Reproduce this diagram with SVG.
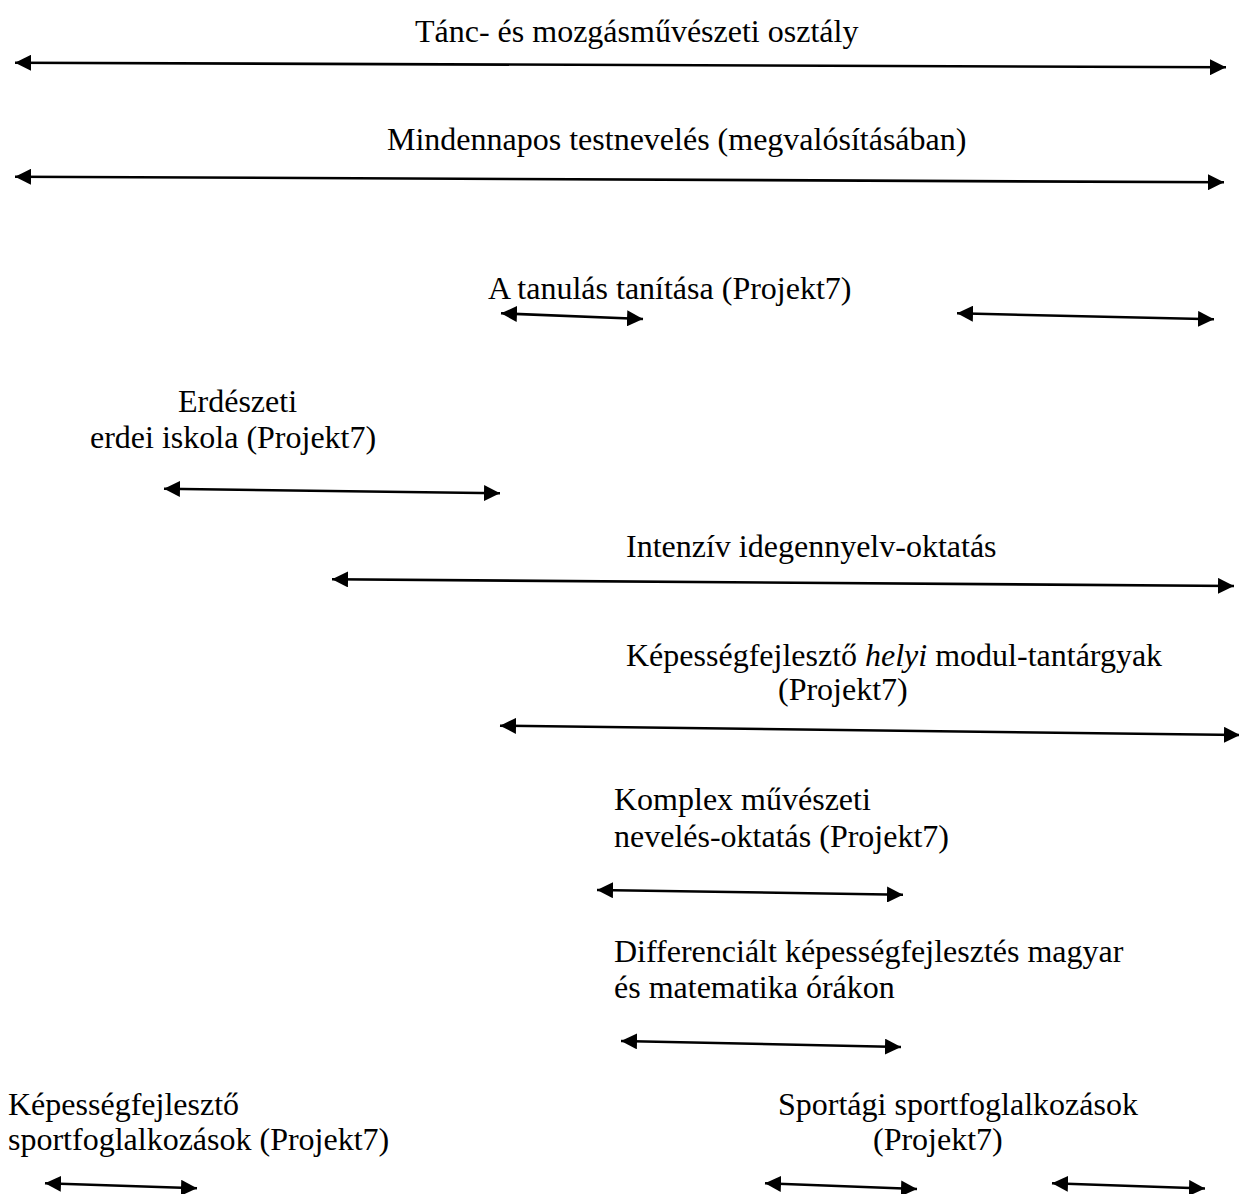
<svg xmlns="http://www.w3.org/2000/svg" width="1239" height="1194" viewBox="0 0 1239 1194">
<style>
text{font-family:"Liberation Serif","Times New Roman",serif;font-size:32px;fill:#000}
.c line{stroke:#000;stroke-width:2.6;marker-start:url(#h);marker-end:url(#h)}
</style>
<defs>
<marker id="h" viewBox="0 0 16 16" markerWidth="16" markerHeight="16" refX="16" refY="8" orient="auto-start-reverse" markerUnits="userSpaceOnUse">
<path d="M0,0 L16,8 L0,16 Z" fill="#000"/>
</marker>
</defs>
<rect width="1239" height="1194" fill="#fff"/>
<g id="n1"><text x="415" y="42">Tánc- és mozgásművészeti osztály</text></g>
<g id="n2"><text x="387" y="150">Mindennapos testnevelés (megvalósításában)</text></g>
<g id="n3"><text x="488" y="299">A tanulás tanítása (Projekt7)</text></g>
<g id="n4"><text x="178" y="412">Erdészeti</text><text x="90" y="448">erdei iskola (Projekt7)</text></g>
<g id="n5"><text x="626" y="557">Intenzív idegennyelv-oktatás</text></g>
<g id="n6"><text x="626" y="666">Képességfejlesztő <tspan font-style="italic">helyi</tspan> modul-tantárgyak</text><text x="778" y="700">(Projekt7)</text></g>
<g id="n7"><text x="614" y="810">Komplex művészeti</text><text x="614" y="847">nevelés-oktatás (Projekt7)</text></g>
<g id="n8"><text x="614" y="962">Differenciált képességfejlesztés magyar</text><text x="614" y="998">és matematika órákon</text></g>
<g id="n9"><text x="8" y="1115">Képességfejlesztő</text><text x="8" y="1150">sportfoglalkozások (Projekt7)</text></g>
<g id="n10"><text x="778" y="1115">Sportági sportfoglalkozások</text><text x="873" y="1150">(Projekt7)</text></g>
<g id="connectors" class="c">
<line x1="15" y1="62.7" x2="1226" y2="67.3"/>
<line x1="15" y1="176.7" x2="1224" y2="182.3"/>
<line x1="501" y1="313.3" x2="643" y2="319"/>
<line x1="957" y1="313.3" x2="1214" y2="319.3"/>
<line x1="164" y1="488.7" x2="500" y2="493.3"/>
<line x1="332" y1="579.3" x2="1234" y2="586"/>
<line x1="500" y1="725.7" x2="1240" y2="735"/>
<line x1="597" y1="890" x2="903" y2="894.7"/>
<line x1="621" y1="1041" x2="901" y2="1047"/>
<line x1="45" y1="1183.3" x2="197" y2="1188.3"/>
<line x1="765" y1="1183.3" x2="917" y2="1189"/>
<line x1="1052" y1="1183.3" x2="1205" y2="1188.5"/>
</g>
</svg>
